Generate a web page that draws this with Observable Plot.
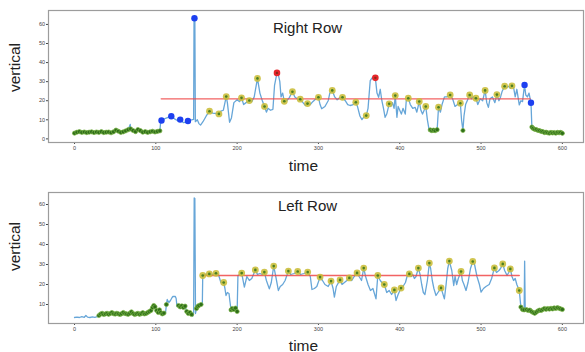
<!DOCTYPE html>
<html><head><meta charset="utf-8">
<script src="https://cdn.jsdelivr.net/npm/d3@7"></script>
<script src="https://cdn.jsdelivr.net/npm/@observablehq/plot@0.6"></script>
<style>
body{margin:0;background:#fff;width:585px;height:352px;overflow:hidden;position:relative;font-family:"Liberation Sans",Arial,sans-serif}
#top,#bottom{position:absolute;left:0}
#top{top:0}#bottom{top:176px}
</style></head><body><div id="top"></div><div id="bottom"></div>
<script>
const xTicks = [0,100,200,300,400,500,600];
const rightYTicks = [0,10,20,30,40,50,60];
const leftYTicks = [10,20,30,40,50,60];
const rightTitle = "Right Row";
const leftTitle = "Left Row";

// ---- Right Row ----
const rightGreen = [[0,3.0],[3,3.5],[6,3.8],[9,3.4],[12,3.6],[15,3.3],[18,3.5],[21,3.7],[24,3.3],[27,3.6],[30,3.4],[33,3.8],[36,3.3],[39,3.5],[42,3.6],[45,3.2],[48,3.7],[51,4.6],[54,4.0],[57,3.4],[60,3.7],[63,4.2],[66,4.8],[69,5.2],[72,4.4],[75,3.8],[78,4.9],[81,4.3],[84,3.5],[87,3.8],[90,3.4],[93,3.7],[96,4.0],[99,3.6],[102,3.9],[105,4.2],
  [437.5,4.7],[439.5,4.3],[441.5,4.6],[443.5,4.3],[446,4.8],[477.7,4.4],
  [562.5,6.2],[564,5.5],[566,5.0],[568,4.9],[570,4.4],[572,4.3],[574,3.9],[576,3.8],[578,3.3],[580,3.5],[582,3.2],[584,3.0],[586,3.4],[588,3.1],[590,3.3],[592,3.0],[594,3.4],[596,3.2],[598,3.4],[600,2.9]];
const rightBlue = [[107,9.6],[119,11.9],[130,10.1],[139.5,9.4],[147.5,63.2],[553.5,28.3],[561.4,18.9]];
const rightYellow = [[166,14.5],[177.6,13.1],[186.6,22.2],[205.4,21.5],[215,20.1],[225,31.7],[233.7,17],[258,19.7],[268,24.7],[277.6,20.8],[286.6,18.5],[300,21.8],[317,25.4],[329.6,21.8],[346,19.2],[358.8,12.2],[387,18.4],[394.5,22.7],[410.5,21.3],[424,19.6],[432,17],[447.7,16.6],[462,23],[474.5,18.7],[486,23],[493.7,21.3],[505,25.4],[519.5,23.2],[529,27.6],[538,27.8]];
const rightRed = [[249,34.6],[370,32]];
const rightMean = [[106.6,21],[560.5,21]];
const rightMid = [[68.5,7.6],[106,9.3],[107,9.6],[112,10.8],[119,11.9],[123,10.5],[127,9.5],[130,10.1],[134,8.5],[137,8.8],[139.5,9.4],[144,10],[146.5,10.2],[147,63.2],[148,63.2],[148.6,9],[151,10],[153,8],[155,7.2],[158,9],[162,12],[166,14.5],[170,13.5],[174,13.3],[177.6,13.1],[180,14.5],[183,15],[186.6,22.2],[188,19],[190.7,8.7],[193,11],[196,19],[200,20.5],[203,19.5],[205.4,21.5],[208,18],[211,19],[215,20.1],[218,19.5],[221,22],[225,31.7],[228,24],[231,20],[233.7,17],[236,14],[238,16],[241,15],[244,15.5],[246,28],[249,34.6],[251,33],[252.5,30],[254,22],[256,24],[258,19.7],[261,20],[264,21.5],[268,24.7],[271,22],[274,21],[277.6,20.8],[281,19],[284,17.5],[286.6,18.5],[290,18],[293,19.5],[297,21],[300,21.8],[302,18],[304,15.8],[308,17],[312,20],[314,24],[317,25.4],[320,22],[323,20.5],[326,21.5],[329.6,21.8],[333,20],[336,18],[339,17.5],[342,17.8],[346,19.2],[348,17],[351,12],[353.5,10.1],[356,11.5],[358.8,12.2],[361,16],[363.7,30.6],[366,32],[368,31.5],[370,32],[372,24],[374,21.8],[376,26],[378,20],[380,16],[382,11.3],[384,13],[387,18.4],[389,17],[391,19],[393,16],[394.5,22.7],[396.5,11.3],[398,17],[400,15],[402,13],[404,16],[406.8,13],[408,20],[410.5,21.3],[413,18],[416,16],[419,16.5],[421,14],[424,19.6],[426,15],[428,13],[430,15],[432,17],[434,10],[436,5],[447.7,16.6],[450,14],[452,18],[455,22],[458,22],[462,23],[465,21],[468,17],[471,18],[474.5,18.7],[476,10],[479,12],[481,18],[483,20],[486,23],[488,21],[490,22],[493.7,21.3],[496,18],[499,21],[502,20],[505,25.4],[507,19],[509,16.5],[511,21],[514,22],[517,19],[519.5,23.2],[522,20],[524,22],[526,25],[529,27.6],[531,27],[534,27.5],[536,26.5],[538,27.8],[540,27],[542,22],[544,26],[547,17.8],[549,20],[551,19.5],[553.5,28.3],[555,23],[557,22],[559,24],[561.4,18.9]];

// ---- Left Row ----
const leftGreen = [[30,4.5],[32,5.2],[34,5.6],[36,5.0],[38,5.3],[40,5.6],[42,5.1],[44,5.5],[46,6.0],[48,5.4],[50,5.2],[52,5.6],[54,5.3],[56,5.0],[58,5.4],[60,6.0],[62,5.5],[64,5.3],[66,5.1],[68,5.6],[70,6.3],[72,5.5],[74,5.0],[76,5.3],[78,5.6],[80,5.1],[82,5.4],[84,5.9],[86,5.3],[88,5.5],[90,6.0],[92,6.5],[94,7.0],[96,8.5],[97.5,9.5],[99,8.8],[101,7.0],[103,6.0],[104.5,7.3],[106,6.0],[108,5.3],[110,5.7],
  [113,10],[128,9.5],[130,8.8],[132,9.3],[134,8.5],[136,9.2],[138,6.5],[140,5.5],[142,6],[144,5],[150,8],[151.5,9],[153,9.5],[155.6,10],
  [192.5,7.3],[194,8],[196,7.5],[198,8.2],[200,6.5],
  [549,8.7],[551,7.5],[553,7.3],[556,7.4],[558,7],[560,7.2],[562,6.5],[564,6],[566,5.6],[568,6.2],[570,6.8],[572,7.2],[574,7],[576,7.5],[578,8],[580,7.6],[582,8],[584,7.7],[586,8.1],[588,7.8],[590,8.3],[592,8],[594,8.4],[596,8.1],[598,7.8],[600,7.5]];
const leftYellow = [[157.7,24.5],[165.8,25.3],[174,25.6],[183.5,21],[205.6,25.7],[222.4,27.3],[233.5,26.2],[245,29.2],[263,26.7],[274.5,26.5],[286.8,26.2],[302,23.7],[315.5,21.7],[326.6,22.3],[338,23.3],[347.5,25.8],[355.7,28.2],[373,24.5],[381,20],[393.4,17.3],[401.6,18.2],[411.8,25.3],[422.9,28.2],[436.4,30.7],[450.8,18.3],[461,31.7],[475.4,26.5],[489.8,31.5],[516.4,28.3],[526.7,30.3],[536,27.8],[547,17]];
const leftMean = [[157.7,24.5],[547,24.5]];
const leftMid = [[0,3.5],[3,3.7],[6,3.5],[9,3.9],[12,3.6],[14,4.5],[16,3.7],[19,3.5],[22,3.8],[25,3.6],[28,3.9],
  [112,6],[114,12.5],[116,11],[118,12],[120,13.5],[121,14],[124,14],[125,13],[126,9],[145.4,4.2],[146.5,6],[147.2,63.3],[148,63],[148.8,5.5],
  [157.2,10.5],[160,25],[170,25],[177,25],[180,21],[185,18],[186.3,14.5],[188,16],[190,15.5],[191,12],
  [201,24.5],[203,25],[208.9,18.7],[212,24],[215,22],[218,23],[225,25],[228,25.5],[231,25],[236,22],[239.6,17.8],[242,21],[248,23],[250.7,17],[253,19],[256,20],[259,22],[266,25],[270,25.5],[278,25],[282,25.5],[290,24],[292,17.5],[295,18],[298,19],[305,22],[308,20],[312,19],[318,18],[319.6,13.7],[322,19],[329,20],[332,21],[335,22],[341,22],[344,24],[350,24],[353,22],[358,24],[361,20],[364,17],[367,18],[370.8,12.8],[376,22],[378,21],[384,16],[387,17],[390,15],[395.4,12],[398,15],[404,19],[407,21],[409,24],[414,24],[416,25],[418,23],[420,24],[425,25],[427,20],[429,16],[431,15],[434,22],[438,28],[440,22],[442,18],[444.6,14.5],[447,16],[454.9,12.8],[457,20],[459,28],[464,27],[466.4,19.5],[468,24],[470,20],[472,23],[477,22],[479,20],[481.5,17],[484,21],[487,28],[492,30],[495,24],[498,20],[500,16.2],[503,18],[506,19],[510,20],[513,23],[519,26],[522,27],[524,28],[529,27],[532,24.5],[534,26],[538,24],[540,22],[542,23],[544,20],[553.6,31.7],[554.3,7.4]];

function series(...parts) {
  return parts.flat().slice().sort((a, b) => a[0] - b[0]);
}

function panel(o) {
  const px = d => d[0], py = d => d[1];
  return Plot.plot({
    width: 585, height: 176,
    marginLeft: 48, marginRight: 2, marginTop: o.marginTop, marginBottom: o.marginBottom,
    x: {domain: [-32, 626], ticks: xTicks, tickSize: 2, tickPadding: 1.5, label: null},
    y: {domain: o.yDomain, ticks: o.yTicks, tickSize: 2, tickPadding: 1.5, label: null},
    style: {fontSize: "5.5px", color: "#444", background: "transparent", fontFamily: "Liberation Sans, Arial, sans-serif"},
    marks: [
      Plot.frame({stroke: "#9c9c9c", strokeWidth: 1.2}),
      Plot.line(o.line, {x: px, y: py, stroke: "#67a6d8", strokeWidth: 1.3}),
      Plot.line(o.mean, {x: px, y: py, stroke: "#f04848", strokeWidth: 1.3, strokeOpacity: 0.85}),
      Plot.dot(o.green, {x: px, y: py, r: 2.1, fill: "#2f6e1a", stroke: "#7ab445", strokeWidth: 0.7}),
      Plot.dot(o.yellow, {x: px, y: py, r: 3.4, fill: "#c9bd38", fillOpacity: 0.88}),
      Plot.dot(o.yellow, {x: px, y: py, r: 1.3, fill: "#4a7f22"}),
      Plot.dot(o.blue, {x: px, y: py, r: 3.2, fill: "#1d40f0"}),
      Plot.dot(o.red, {x: px, y: py, r: 3.3, fill: "#e5262b"}),
      Plot.dot(o.red, {x: px, y: py, r: 1.2, fill: "#8a2a1a"}),
      Plot.text([o.title], {text: d => d, frameAnchor: "top-left", dx: 259, dy: o.titleDy, textAnchor: "middle", lineAnchor: "bottom", fontSize: 15, fill: "#222"}),
      Plot.text(["vertical"], {text: d => d, frameAnchor: "top-left", dx: -33.5, dy: o.vDy, rotate: -90, textAnchor: "middle", lineAnchor: "middle", fontSize: 15.5, fill: "#222"}),
      Plot.text(["time"], {text: d => d, frameAnchor: "top-left", dx: 255, dy: o.timeDy, textAnchor: "middle", lineAnchor: "bottom", fontSize: 15.5, fill: "#222"})
    ]
  });
}

document.getElementById("top").append(panel({
  line: series(rightGreen, rightMid), green: rightGreen, blue: rightBlue, yellow: rightYellow, red: rightRed, mean: rightMean,
  title: rightTitle, yTicks: rightYTicks, yDomain: [-1.9, 67.3], marginTop: 10, marginBottom: 34,
  titleDy: 22.5, vDy: 57, timeDy: 160
}));
document.getElementById("bottom").append(panel({
  line: series(leftGreen, leftYellow, leftMid), green: leftGreen, blue: [], yellow: leftYellow, red: [], mean: leftMean,
  title: leftTitle, yTicks: leftYTicks, yDomain: [0.5, 66], marginTop: 16, marginBottom: 29,
  titleDy: 18, vDy: 54, timeDy: 158
}));
</script></body></html>
